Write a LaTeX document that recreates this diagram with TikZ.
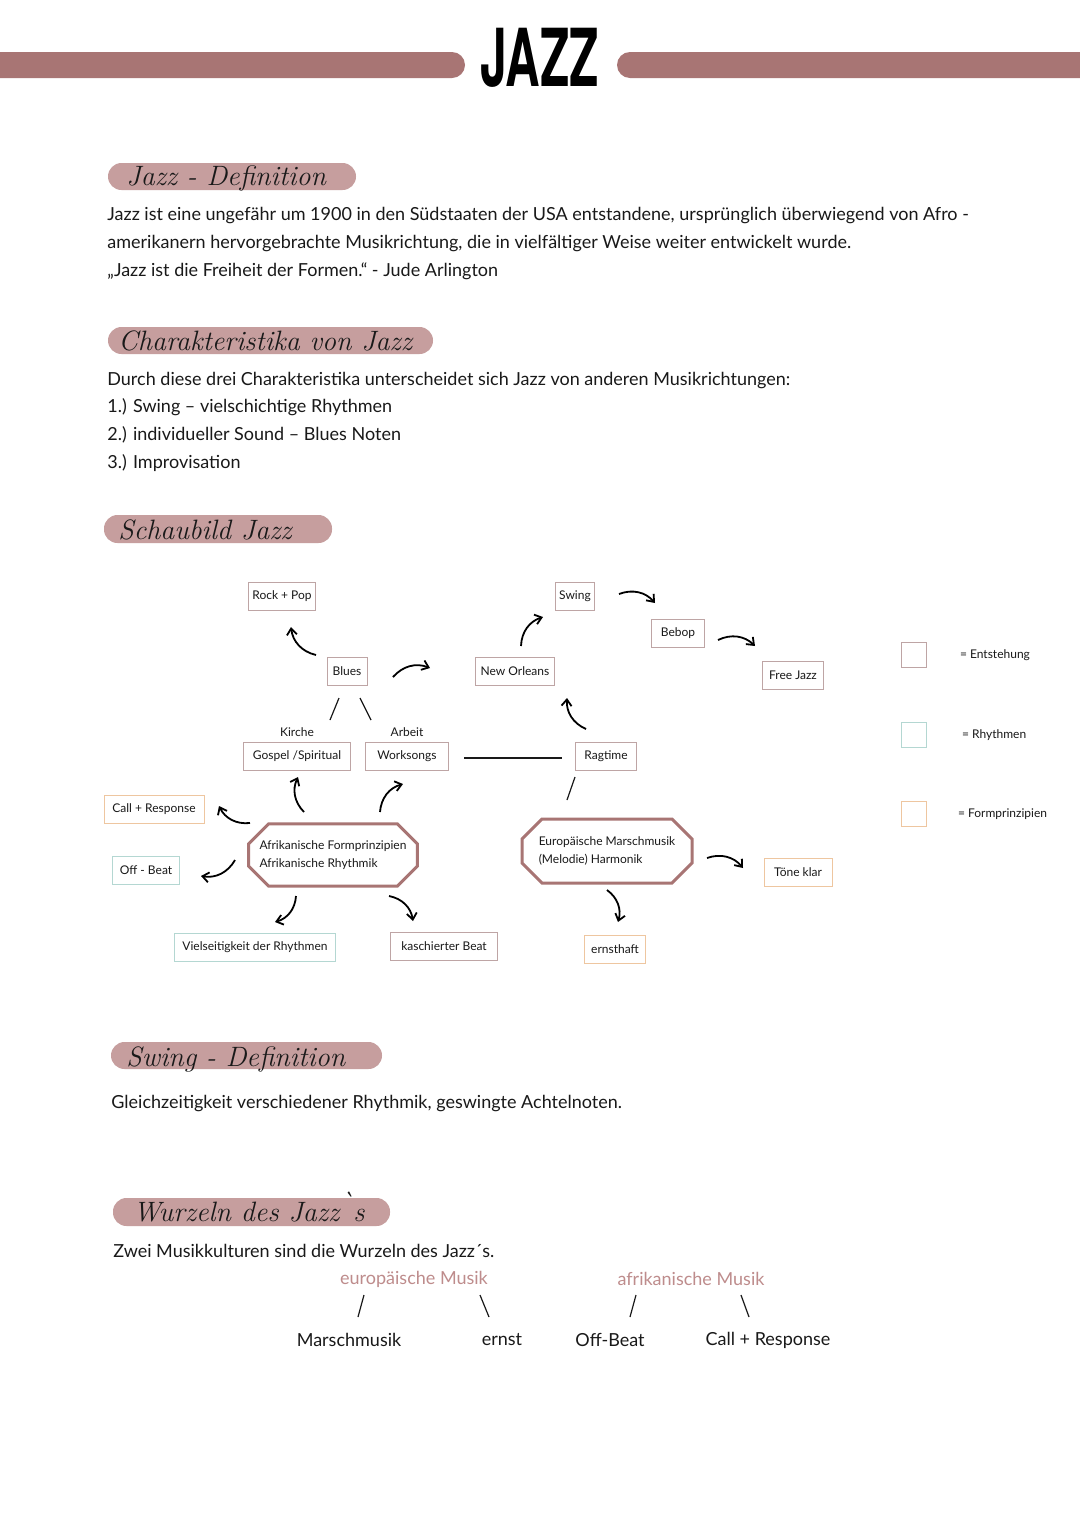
\documentclass[tikz,border=0pt]{standalone}
\usepackage{fontspec}
\usepackage{tikz}
\usetikzlibrary{arrows.meta,positioning,calc,shapes.misc}

\newfontfamily\notefont{Lato}
\newfontfamily\titlefont[FakeStretch=0.6]{TeX Gyre Heros}

\definecolor{barrose}{RGB}{168,117,116}
\definecolor{pillrose}{RGB}{198,158,158}
\definecolor{entrose}{RGB}{190,165,165}
\definecolor{rhyteal}{RGB}{180,215,210}
\definecolor{formorange}{RGB}{238,198,160}
\definecolor{musikrose}{RGB}{190,140,140}
\definecolor{ink}{RGB}{25,25,25}

\begin{document}
\begin{tikzpicture}[x=0.5pt,y=-0.5pt,
  >={Straight Barb[length=3.2pt,width=5pt]},
  txt/.style={font=\notefont\fontsize{9}{14}\selectfont, text=ink, anchor=base west, inner sep=0pt},
  head/.style={font=\itshape\fontsize{14}{14}\selectfont, text=ink, anchor=base west, inner sep=0pt},
  pill/.style={fill=pillrose, rounded corners=6.75pt},
  box/.style={draw=#1, line width=0.5pt, font=\notefont\fontsize{6}{7}\selectfont, text=ink, minimum height=14pt, inner xsep=2pt},
  entst/.style={box=entrose},
  rhyth/.style={box=rhyteal},
  form/.style={box=formorange},
  lbl/.style={font=\notefont\fontsize{6}{7}\selectfont, text=ink},
  oct/.style={chamfered rectangle, chamfered rectangle xsep=5pt, chamfered rectangle ysep=5pt, inner xsep=0.5pt,
              draw=barrose, line width=1.5pt, align=left, font=\notefont\fontsize{6}{9}\selectfont, text=ink},
  arr/.style={->, line width=0.9pt, bend left=35},
  link/.style={line width=0.6pt, ink},
  root/.style={font=\notefont\fontsize{9}{11}\selectfont, text=musikrose},
  leaf/.style={font=\notefont\fontsize{9}{11}\selectfont, text=ink}]

  \useasboundingbox (0,0) rectangle (1080,1527);
  \fill[white] (0,0) rectangle (1080,1527);

  % ── title bar ───────────────────────────────────────────────────────
  \fill[barrose, rounded corners=6.5pt] (-30,52) rectangle (465,78);
  \fill[barrose, rounded corners=6.5pt] (617,52) rectangle (1110,78);
  \node[font=\titlefont\bfseries\fontsize{40}{40}\selectfont, anchor=base, inner sep=0pt] (title) at (540,86) {JAZZ};

  % ── Jazz - Definition ───────────────────────────────────────────────
  \fill[pill] (108,163) rectangle (356,190);
  \node[head] (h1) at (126,185) {Jazz - Definition};
  \node[txt] (def1) at (107,220) {Jazz ist eine ungefähr um 1900 in den Südstaaten der USA entstandene, ursprünglich überwiegend von Afro -};
  \node[txt] (def2) at (107,248) {amerikanern hervorgebrachte Musikrichtung, die in vielfältiger Weise weiter entwickelt wurde.};
  \node[txt] (def3) at (107,276) {„Jazz ist die Freiheit der Formen.“ - Jude Arlington};

  % ── Charakteristika ─────────────────────────────────────────────────
  \fill[pill] (108,327) rectangle (433,354);
  \node[head] (h2) at (118,350) {Charakteristika von Jazz};
  \node[txt] (char0) at (107,385) {Durch diese drei Charakteristika unterscheidet sich Jazz von anderen Musikrichtungen:};
  \node[txt] (char1) at (107,412) {1.) Swing – vielschichtige Rhythmen};
  \node[txt] (char2) at (107,440) {2.) individueller Sound – Blues Noten};
  \node[txt] (char3) at (107,468) {3.) Improvisation};

  % ── Schaubild ───────────────────────────────────────────────────────
  \fill[pill] (104,515) rectangle (332,543);
  \node[head] (h3) at (118,539) {Schaubild Jazz};

  \node[entst, minimum width=33.5pt] (rockpop)    at (282,596) {Rock + Pop};
  \node[entst, minimum width=20pt]   (blues)      at (347,671) {Blues};
  \node[entst, minimum width=39.5pt] (neworleans) at (515,671) {New Orleans};
  \node[entst, minimum width=19.5pt] (swing)      at (575,596) {Swing};
  \node[entst, minimum width=26.5pt] (bebop)      at (678,633) {Bebop};
  \node[entst, minimum width=30.5pt] (freejazz)   at (793,675) {Free Jazz};
  \node[entst, minimum width=53.5pt] (gospel)     at (297,756) {Gospel /Spiritual};
  \node[entst, minimum width=41.5pt] (worksongs)  at (407,756) {Worksongs};
  \node[entst, minimum width=30.5pt] (ragtime)    at (606,756) {Ragtime};
  \node[lbl, above=-1pt of gospel]    (kirche) {Kirche};
  \node[lbl, above=-1pt of worksongs] (arbeit) {Arbeit};

  \node[oct, minimum width=84pt, minimum height=31pt] (afrik) at (333,855)
       {Afrikanische Formprinzipien\\Afrikanische Rhythmik};
  \node[oct, minimum width=85pt, minimum height=32pt] (europ) at (607,851)
       {Europäische Marschmusik\\(Melodie) Harmonik};

  \node[form,  minimum width=50pt]   (callresp) at (154,809) {Call + Response};
  \node[rhyth, minimum width=33.5pt] (offbeat)  at (146,870) {Off - Beat};
  \node[rhyth, minimum width=80.5pt] (vielseit) at (255,947) {Vielseitigkeit der Rhythmen};
  \node[entst, minimum width=53.5pt] (kasch)    at (444,946) {kaschierter Beat};
  \node[form,  minimum width=30.5pt] (ernst)    at (615,949) {ernsthaft};
  \node[form,  minimum width=34pt]   (toene)    at (798,872) {Töne klar};

  % arrows
  \draw[arr] ($(blues)+(-31,-16)$)      to ($(rockpop)+(9,31)$);
  \draw[arr] ($(blues)+(46,6)$)         to ($(neworleans)+(-85,-3)$);
  \draw[arr] ($(neworleans)+(6,-25)$)   to ($(swing)+(-32,21)$);
  \draw[arr] ($(swing)+(44,-2)$)        to ($(bebop)+(-23,-30)$);
  \draw[arr] ($(bebop)+(40,7)$)         to ($(freejazz)+(-38,-29)$);
  \draw[arr] ($(ragtime)+(-20,-27)$)    to ($(neworleans)+(52,27)$);
  \draw[arr] ($(afrik)+(-29,-43)$)      to ($(gospel)+(1,21)$);
  \draw[arr] ($(afrik)+(47,-43)$)       to ($(worksongs)+(-4,28)$);
  \draw[arr] ($(afrik)+(-83,-32)$)      to ($(callresp)+(65,-3)$);
  \draw[arr] ($(afrik)+(-98,5)$)        to ($(offbeat)+(55,6)$);
  \draw[arr] ($(afrik)+(-37,41)$)       to ($(vielseit)+(20,-25)$);
  \draw[arr] ($(afrik)+(56,41)$)        to ($(kasch)+(-31,-25)$);
  \draw[arr] ($(europ)+(0,39)$)         to ($(ernst)+(3,-27)$);
  \draw[arr] ($(europ)+(100,7)$)        to ($(toene)+(-55,-4)$);

  % plain links
  \draw[link] ($(blues)+(-8,27)$)       -- ($(gospel)+(33,-36)$);
  \draw[link] ($(blues)+(13,27)$)       -- ($(worksongs)+(-36,-36)$);
  \draw[link] ($(worksongs.east)+(15,2)$) -- ($(ragtime.west)+(-13,2)$);
  \draw[link] ($(ragtime)+(-31,21)$)    -- ($(europ)+(-40,-51)$);

  % legend
  \node[entst, minimum size=12.5pt] (legent)  at (914,655) {};
  \node[rhyth, minimum size=12.5pt] (legrhy)  at (914,735) {};
  \node[form,  minimum size=12.5pt] (legform) at (914,814) {};
  \node[lbl, right=13pt of legent]  {= Entstehung};
  \node[lbl, right=14pt of legrhy]  {= Rhythmen};
  \node[lbl, right=12pt of legform] {= Formprinzipien};

  % ── Swing - Definition ──────────────────────────────────────────────
  \fill[pill] (111,1042) rectangle (382,1069);
  \node[head] (h4) at (126,1066) {Swing - Definition};
  \node[txt] (swingdef) at (111,1108) {Gleichzeitigkeit verschiedener Rhythmik, geswingte Achtelnoten.};

  % ── Wurzeln ─────────────────────────────────────────────────────────
  \fill[pill] (113,1198) rectangle (390,1226);
  \node[head] (h5) at (133,1221) {Wurzeln des Jazz\raisebox{0.35em}{\textasciigrave}s};
  \node[txt] (wurz) at (113,1257) {Zwei Musikkulturen sind die Wurzeln des Jazz´s.};

  \node[root] (eumusik) at (414,1279) {europäische Musik};
  \node[root] (afmusik) at (691,1279) {afrikanische Musik};
  \node[leaf] (marsch)    at (349,1340) {Marschmusik};
  \node[leaf] (ernstw)    at (502,1340) {ernst};
  \node[leaf] (offbeatw)  at (610,1340) {Off-Beat};
  \node[leaf] (callrespw) at (768,1340) {Call + Response};

  \draw[link] ($(eumusik)+(-50,16)$) -- ($(marsch)+(9,-23)$);
  \draw[link] ($(eumusik)+(66,16)$)  -- ($(ernstw)+(-13,-23)$);
  \draw[link] ($(afmusik)+(-55,16)$) -- ($(offbeatw)+(20,-23)$);
  \draw[link] ($(afmusik)+(50,16)$)  -- ($(callrespw)+(-19,-23)$);

\end{tikzpicture}
\end{document}
